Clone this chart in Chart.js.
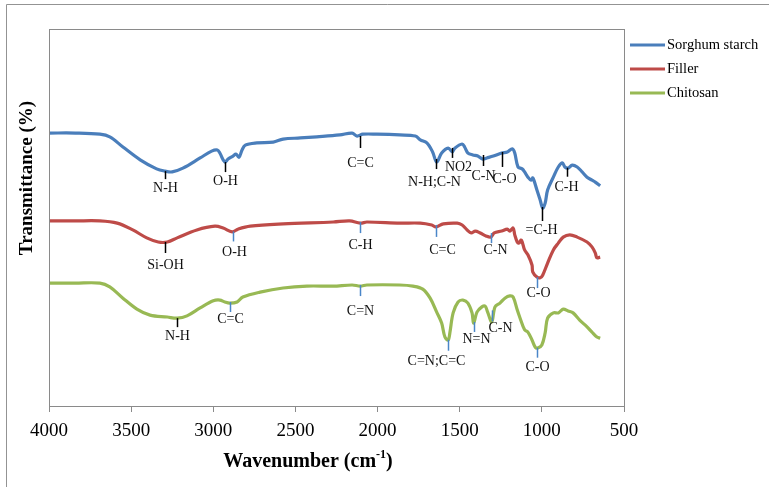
<!DOCTYPE html>
<html>
<head>
<meta charset="utf-8">
<script src="https://cdn.jsdelivr.net/npm/chart.js@4"></script>
<style>
  html, body { margin: 0; background: #fff; }
</style>
</head>
<body>
<canvas id="myChart" width="769" height="487"></canvas>
<script>
// FTIR spectra, wavenumber (cm-1) vs transmittance (arbitrary, offset per sample)
const starchWn = [4000, 3840, 3690, 3630, 3550, 3445, 3345, 3295, 3250, 3185, 3080, 3010, 2975, 2960, 2930, 2910, 2880, 2862, 2843, 2825, 2805, 2735, 2635, 2575, 2470, 2370, 2230, 2155, 2125, 2090, 2005, 1865, 1770, 1740, 1700, 1665, 1640, 1610, 1570, 1545, 1530, 1485, 1470, 1450, 1420, 1390, 1360, 1335, 1295, 1245, 1210, 1180, 1165, 1145, 1120, 1105, 1085, 1065, 1055, 1030, 1010, 995, 980, 965, 930, 900, 875, 860, 840, 815, 785, 755, 725, 695, 675, 645];
const starchT = [72.4, 72.4, 72.1, 71.4, 68.7, 65.3, 62.9, 62.3, 62.1, 63.1, 65.8, 67.6, 67.9, 67.1, 64.7, 65.5, 66.3, 66.8, 66.0, 67.9, 69.2, 69.8, 70.0, 70.8, 71.1, 71.4, 71.9, 72.4, 71.6, 72.1, 72.1, 71.9, 71.6, 70.6, 69.8, 67.4, 64.7, 67.1, 68.4, 67.4, 68.4, 69.5, 68.7, 67.1, 66.6, 66.3, 65.5, 65.8, 66.3, 67.1, 67.4, 68.2, 67.1, 63.4, 62.9, 62.1, 60.7, 59.9, 60.5, 57.3, 54.6, 52.5, 53.8, 57.3, 60.7, 63.4, 64.5, 63.4, 63.1, 63.9, 63.4, 62.1, 60.7, 59.9, 59.4, 58.4];

const fillerWn = [4000, 3840, 3690, 3585, 3490, 3405, 3335, 3280, 3220, 3100, 2990, 2940, 2885, 2850, 2775, 2575, 2270, 2170, 2105, 2065, 1865, 1740, 1670, 1645, 1600, 1515, 1485, 1455, 1430, 1405, 1375, 1340, 1310, 1290, 1245, 1210, 1195, 1175, 1165, 1150, 1140, 1125, 1105, 1085, 1060, 1055, 1030, 1010, 995, 965, 930, 900, 870, 830, 785, 725, 695, 675, 665, 645];
const fillerT = [49.1, 49.1, 49.1, 48.5, 46.7, 44.6, 43.5, 43.5, 44.6, 46.7, 47.7, 47.2, 46.2, 46.9, 47.7, 48.3, 48.8, 49.1, 48.5, 48.8, 48.5, 48.5, 48.0, 47.5, 48.3, 48.5, 48.0, 46.7, 45.9, 46.4, 45.9, 45.1, 44.8, 45.9, 46.4, 46.9, 46.4, 47.2, 45.4, 43.5, 43.2, 44.0, 41.4, 40.1, 37.4, 35.5, 34.2, 34.0, 34.7, 37.9, 41.4, 43.2, 44.8, 45.4, 44.8, 43.5, 42.2, 40.6, 39.3, 39.5];

const chitosanWn = [4000, 3840, 3690, 3630, 3550, 3465, 3385, 3280, 3220, 3160, 3080, 3000, 2960, 2930, 2900, 2855, 2820, 2715, 2575, 2430, 2270, 2155, 2105, 2065, 1865, 1785, 1725, 1680, 1640, 1610, 1590, 1570, 1560, 1540, 1510, 1480, 1450, 1425, 1415, 1395, 1365, 1345, 1330, 1305, 1285, 1255, 1225, 1195, 1175, 1150, 1135, 1105, 1085, 1060, 1040, 1025, 1000, 980, 965, 930, 900, 870, 840, 810, 770, 725, 695, 665, 645];
const chitosanT = [32.6, 32.6, 32.6, 31.6, 28.6, 25.7, 24.1, 23.6, 23.3, 23.9, 26.0, 27.9, 28.1, 27.6, 27.3, 27.6, 28.9, 30.2, 31.3, 31.8, 31.8, 32.1, 31.8, 32.1, 32.1, 31.8, 31.0, 28.6, 24.9, 22.0, 18.3, 17.5, 19.4, 24.7, 27.6, 28.1, 27.3, 24.7, 22.0, 24.9, 26.3, 26.5, 24.9, 22.3, 26.3, 27.3, 28.6, 29.2, 28.9, 25.5, 23.6, 20.2, 19.6, 17.5, 15.6, 15.4, 16.2, 19.4, 23.3, 24.7, 24.7, 25.7, 25.2, 24.7, 22.8, 21.0, 19.6, 18.3, 18.0];

// band assignments [label, wavenumber]
const starchBands = [['N-H', 3295], ['O-H', 2930], ['C=C', 2105], ['N-H;C-N', 1645], ['NO2', 1545], ['C-N', 1358], ['C-O', 1243], ['=C-H', 997], ['C-H', 847]];
const fillerBands = [['Si-OH', 3294], ['O-H', 2880], ['C-H', 2107], ['C=C', 1645], ['C-N', 1310], ['C-O', 1030]];
const chitosanBands = [['N-H', 3221], ['C=C', 2898], ['C=N', 2107], ['C=N;C=C', 1572], ['N=N', 1413], ['C-N', 1303], ['C-O', 1030]];

// marker layout in px: [tick start, tick end, label dx, label dy] relative to the curve
const starchMarks = [[0, 8, 0, 17], [0, 10, 0, 19], [1, 13, 0, 28], [-1, 9, -2, 22], [-4, 6, 6, 15], [-4, 7, 0, 17], [-1, 14, 2, 26], [0, 14, -1, 23], [0, 9, -1, 20]];
const fillerMarks = [[0, 11, 0, 23], [0, 10, 1, 21], [-1, 10, 0, 22], [-2, 10, 6, 23], [-4, 6, 4, 13], [0, 11, 1, 16]];
const chitosanMarks = [[0, 9, 0, 18], [-1, 9, 0, 16], [-1, 10, 0, 25], [0, 11, -12, 22], [0, 10, 2, 17], [-10, 1, 8, 8], [0, 10, 0, 20]];
const tickBlue = '#4a86c8';
const starchTickColors = starchBands.map(() => '#000');
const fillerTickColors = ['#000', tickBlue, tickBlue, tickBlue, tickBlue, tickBlue];
const chitosanTickColors = ['#000', tickBlue, tickBlue, tickBlue, tickBlue, tickBlue, tickBlue];

const serif = '"Liberation Serif", "Times New Roman", serif';

function toPoints(wn, t) {
  return wn.map((w, i) => ({ x: w, y: t[i] }));
}

function valueAt(wn, t, w) {
  for (let i = 0; i < wn.length - 1; i++) {
    if (w <= wn[i] && w >= wn[i + 1]) {
      const f = (wn[i] - w) / (wn[i] - wn[i + 1]);
      return t[i] + f * (t[i + 1] - t[i]);
    }
  }
  return t[t.length - 1];
}

const series = [
  { label: 'Sorghum starch', color: '#4a7ebb', wn: starchWn, t: starchT, bands: starchBands, marks: starchMarks, tc: starchTickColors },
  { label: 'Filler', color: '#be4b48', wn: fillerWn, t: fillerT, bands: fillerBands, marks: fillerMarks, tc: fillerTickColors },
  { label: 'Chitosan', color: '#98b954', wn: chitosanWn, t: chitosanT, bands: chitosanBands, marks: chitosanMarks, tc: chitosanTickColors }
];

const decor = {
  id: 'decor',
  afterDatasetsDraw(chart) {
    const { ctx, chartArea: a, scales: { x, y } } = chart;
    ctx.save();

    // outer frame
    ctx.strokeStyle = '#939393';
    ctx.lineWidth = 1;
    ctx.beginPath();
    ctx.moveTo(769, 4.5);
    ctx.lineTo(6.5, 4.5);
    ctx.lineTo(6.5, 487);
    ctx.stroke();

    // plot frame
    ctx.strokeStyle = '#8a8a8a';
    ctx.strokeRect(Math.round(a.left) + 0.5, Math.round(a.top) + 0.5, Math.round(a.right - a.left), Math.round(a.bottom - a.top));

    // band markers
    ctx.font = '14px ' + serif;
    ctx.textAlign = 'center';
    ctx.textBaseline = 'middle';
    series.forEach(s => {
      s.bands.forEach((b, j) => {
        const m = s.marks[j];
        const px = Math.round(x.getPixelForValue(b[1])) + 0.5;
        const py = y.getPixelForValue(valueAt(s.wn, s.t, b[1]));
        ctx.strokeStyle = s.tc[j];
        ctx.lineWidth = 1.5;
        ctx.beginPath();
        ctx.moveTo(px, py + m[0]);
        ctx.lineTo(px, py + m[1]);
        ctx.stroke();
        ctx.fillStyle = '#111';
        ctx.fillText(b[0], px + m[2], py + m[3]);
      });
    });

    // legend
    ctx.textAlign = 'left';
    ctx.font = '14.5px ' + serif;
    series.forEach((s, i) => {
      const ly = 45 + i * 24;
      ctx.strokeStyle = s.color;
      ctx.lineWidth = 3;
      ctx.beginPath();
      ctx.moveTo(630, ly);
      ctx.lineTo(665, ly);
      ctx.stroke();
      ctx.fillStyle = '#000';
      ctx.fillText(s.label, 667, ly);
    });

    // axis titles
    ctx.fillStyle = '#000';
    ctx.font = 'bold 19px ' + serif;
    ctx.save();
    ctx.translate(27, 178);
    ctx.rotate(-Math.PI / 2);
    ctx.textAlign = 'center';
    ctx.fillText('Transmittance (%)', 0, 0);
    ctx.restore();

    const main = 'Wavenumber (cm';
    ctx.font = 'bold 20px ' + serif;
    const w1 = ctx.measureText(main).width;
    ctx.font = 'bold 12px ' + serif;
    const w2 = ctx.measureText('-1').width;
    ctx.font = 'bold 20px ' + serif;
    const w3 = ctx.measureText(')').width;
    let tx = 308 - (w1 + w2 + w3) / 2;
    ctx.fillText(main, tx, 462);
    tx += w1;
    ctx.font = 'bold 12px ' + serif;
    ctx.fillText('-1', tx, 455);
    tx += w2;
    ctx.font = 'bold 20px ' + serif;
    ctx.fillText(')', tx, 462);

    ctx.restore();
  }
};

const ctx = document.getElementById('myChart');
new Chart(ctx, {
  type: 'line',
  data: {
    datasets: series.map(s => ({
      label: s.label,
      data: toPoints(s.wn, s.t),
      borderColor: s.color,
      backgroundColor: s.color,
      borderWidth: 3.2,
      pointRadius: 0,
      tension: 0.35,
      fill: false
    }))
  },
  options: {
    responsive: false,
    animation: false,
    layout: { padding: { left: 49, right: 145, top: 29, bottom: 0 } },
    plugins: { legend: { display: false }, tooltip: { enabled: false } },
    scales: {
      x: {
        type: 'linear',
        reverse: true,
        min: 500,
        max: 4000,
        afterFit(scale) { scale.height = 81; },
        border: { display: false },
        grid: { drawOnChartArea: false, drawTicks: true, tickLength: 6, color: '#8a8a8a' },
        ticks: {
          stepSize: 500,
          autoSkip: false,
          maxRotation: 0,
          padding: 8,
          color: '#000',
          font: { family: serif, size: 19 },
          callback: (v) => String(v)
        }
      },
      y: {
        display: false,
        min: 0,
        max: 100
      }
    }
  },
  plugins: [decor]
});
</script>
</body>
</html>
